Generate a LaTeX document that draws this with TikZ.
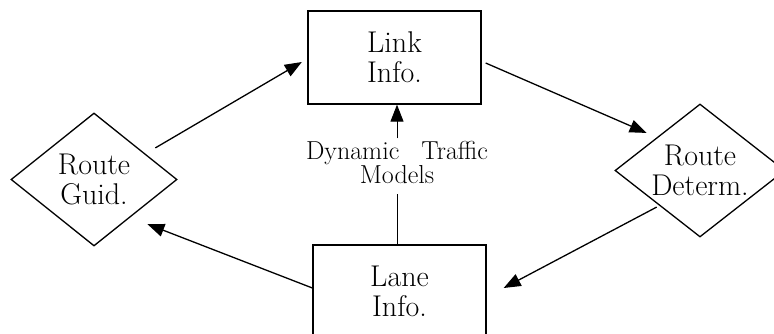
\documentclass[tikz,border=0pt]{standalone}
\usepackage{fontspec}
\usetikzlibrary{shapes.geometric,arrows.meta}
\tikzset{
  boxtxt/.style={font=\fontsize{30}{30}\selectfont, align=center},
  infobox/.style={boxtxt, draw, line width=1.3pt, minimum width=173pt, minimum height=93pt, inner sep=0pt},
  decide/.style={boxtxt, draw, diamond, line width=1.3pt, inner sep=0pt, shape aspect=1.27},
  arr/.style={line width=1.3pt, -{Triangle[length=17pt,width=13pt]}},
  plain/.style={line width=1pt},
  lbl/.style={font=\fontsize{26}{23}\selectfont, align=center, inner sep=0pt}
}
\begin{document}
\begin{tikzpicture}[x=1pt,y=-1pt]
\useasboundingbox (0,0) rectangle (774,334);
\clip (0,0) rectangle (774,334);
\fill[white] (0,0) rectangle (774,334);

\node[infobox] (link) at (394.5,57.5) {Link\\Info.};
\node[infobox] (lane) at (399.5,291.5) {Lane\\Info.};
\node[decide, minimum width=166pt, minimum height=133pt] (rg) at (94,179.5) {Route\\Guid.};
\node[decide, minimum width=170pt, minimum height=133pt] (rd) at (700,170.5) {Route\\Determ.};
\node[lbl] (dtm) at (397,162.5) {Dynamic\hspace{0.85em}Traffic\\Models};

\draw[arr] ([shift={(19.5,2)}]rg.north east) -- ([shift={(-5.5,4.5)}]link.west);
\draw[arr] ([shift={(4,5.5)}]link.east) -- ([shift={(-10.5,-4)}]rd.north west);
\draw[arr] ([shift={(-0.5,3)}]rd.south west) -- ([shift={(17,-3.5)}]lane.east);
\draw[arr] ([shift={(0,-3.5)}]lane.west) -- ([shift={(11.5,11)}]rg.south east);

\draw[plain, shorten >=10pt] (dtm |- lane.north) -- (dtm.south);
\draw[plain, shorten <=2.6pt, -{Triangle[length=17pt,width=13pt]}] (dtm.north) -- (dtm |- link.south);
\end{tikzpicture}
\end{document}
